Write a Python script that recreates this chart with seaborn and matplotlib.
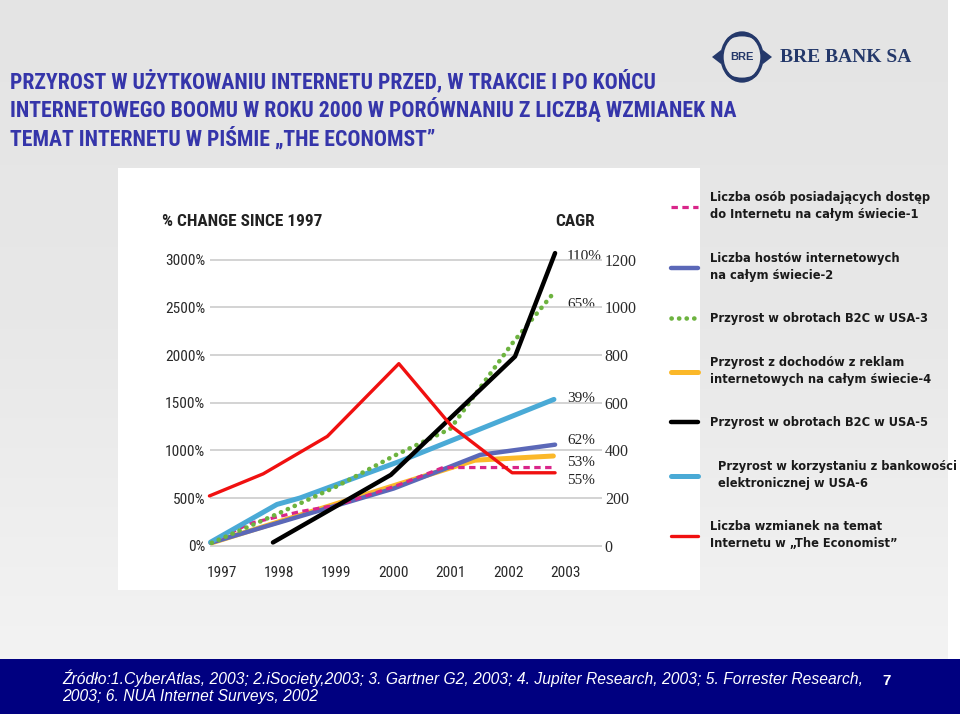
import numpy as np
import pandas as pd
import seaborn as sns
import matplotlib.pyplot as plt
from matplotlib.colors import LinearSegmentedColormap
from matplotlib.patches import Rectangle, Ellipse, Polygon, Arc

# --- dane (% zmiany od 1997) ---
years_users = [1996.8, 1997.49, 1998.36, 1999.06, 1999.64, 2000.11, 2000.86, 2002.8]
pct_users = [30, 235, 357, 433, 547, 643, 820, 820]

years_hosts = [1996.8, 2000.0, 2000.9, 2001.51, 2002.82]
pct_hosts = [30, 600, 809, 953, 1060]

years_b2c3 = [1996.82, 1998.0, 1999.0, 2000.0, 2000.99, 2002.07, 2002.75]
pct_b2c3 = [30, 342, 621, 941, 1227, 2121, 2619]

years_ads = [1996.82, 2001.42, 2002.79]
pct_ads = [30, 897, 941]

years_b2c5 = [1997.89, 1999.95, 2002.12, 2002.82]
pct_b2c5 = [34, 743, 1985, 3070]

years_bank = [1996.8, 1997.96, 1998.36, 2000.11, 2002.8]
pct_bank = [37, 433, 500, 886, 1535]

years_econ = [1996.78, 1997.72, 1998.84, 2000.09, 2001.02, 2002.07, 2002.82]
pct_econ = [522, 754, 1147, 1910, 1248, 765, 765]

x_years = [1997, 1998, 1999, 2000, 2001, 2002, 2003]
left_ticks = [0, 500, 1000, 1500, 2000, 2500, 3000]
left_labels = ['0%', '500%', '1000%', '1500%', '2000%', '2500%', '3000%']
right_ticks = [0, 200, 400, 600, 800, 1000, 1200]
cagr_labels = ['110%', '65%', '39%', '62%', '53%', '55%']

legend_labels = [
    'Liczba osób posiadających dostęp\ndo Internetu na całym świecie-1',
    'Liczba hostów internetowych\nna całym świecie-2',
    'Przyrost w obrotach B2C w USA-3',
    'Przyrost z dochodów z reklam\ninternetowych na całym świecie-4',
    'Przyrost w obrotach B2C w USA-5',
    '  Przyrost w korzystaniu z bankowości\n  elektronicznej w USA-6',
    'Liczba wzmianek na temat\nInternetu w „The Economist”',
]

title_lines = ['PRZYROST W UŻYTKOWANIU INTERNETU PRZED, W TRAKCIE I PO KOŃCU',
               'INTERNETOWEGO BOOMU W ROKU 2000 W PORÓWNANIU Z LICZBĄ WZMIANEK NA',
               'TEMAT INTERNETU W PIŚMIE „THE ECONOMST”']
source1 = ('Źródło:1.CyberAtlas, 2003; 2.iSociety,2003; 3. Gartner G2, 2003; '
           '4. Jupiter Research, 2003; 5. Forrester Research,')
source2 = '2003; 6. NUA Internet Surveys, 2002'

sns.set_style('white')
plt.rcParams['font.family'] = ['DejaVu Sans']
narrow = ['Liberation Sans Narrow', 'Roboto Condensed', 'Liberation Sans', 'DejaVu Sans']
serif = ['Liberation Serif', 'DejaVu Serif']
arial = ['Liberation Sans', 'DejaVu Sans']

fig = plt.figure(figsize=(9.6, 7.14), dpi=100)
rend = fig.canvas.get_renderer()


def dopasuj(txt, target_px):
    # skaluje rozmiar czcionki tak, by tekst miał zadaną szerokość w pikselach
    w = txt.get_window_extent(rend).width
    txt.set_fontsize(txt.get_fontsize() * target_px / w)
    return txt.get_fontsize()


# --- tło slajdu (współrzędne w pikselach) ---
bg = fig.add_axes([0, 0, 1, 1], zorder=0)
bg.set_xlim(0, 960)
bg.set_ylim(714, 0)
bg.axis('off')
grad = np.linspace(0, 1, 200).reshape(-1, 1)
cm = LinearSegmentedColormap.from_list('slajd', ['#e4e4e4', '#e8e8e8', '#f3f3f3'])
bg.imshow(grad, extent=[0, 960, 659, 0], cmap=cm, aspect='auto')
bg.add_patch(Rectangle((948, 0), 12, 659, color='white', lw=0))
bg.add_patch(Rectangle((118, 168), 582, 422, color='white', lw=0))
bg.add_patch(Rectangle((0, 659), 960, 55, color='#000080', lw=0))

# tytuł (trzy linie, szerokość dopasowana do oryginału)
tt = [bg.text(10, 0, line, fontsize=15, fontweight='bold', color='#3535aa',
              family=narrow, va='baseline', ha='left') for line in title_lines]
fs = dopasuj(tt[1], 732)
cap = 0.72 * fs * 100 / 72
for t, yc in zip(tt, [80, 109, 138]):
    t.set_fontsize(fs)
    t.set_y(yc + cap / 2)

# logo BRE
navy = '#24386a'
bg.add_patch(Ellipse((742, 57), 40, 48, fill=False, ec=navy, lw=2.4))
bg.add_patch(Arc((742, 42), 30, 14, theta1=180, theta2=360, ec=navy, lw=2))
bg.add_patch(Arc((742, 72), 30, 14, theta1=0, theta2=180, ec=navy, lw=2))
bg.add_patch(Polygon([[712, 57], [721, 50], [721, 64]], color=navy, lw=0))
bg.add_patch(Polygon([[772, 57], [763, 50], [763, 64]], color=navy, lw=0))
bg.text(742, 57.5, 'BRE', fontsize=8, fontweight='bold', color=navy,
        ha='center', va='center', family=arial)
bg.text(780, 57, 'BRE BANK SA', fontsize=14, fontweight='bold', color=navy,
        ha='left', va='center', family=serif)

# nagłówki wykresu
h1 = bg.text(162, 0, '% CHANGE SINCE 1997', fontsize=12, fontweight='bold',
             color='#222222', family=narrow, va='baseline', ha='left')
fs_h = dopasuj(h1, 160)
cap_h = 0.72 * fs_h * 100 / 72
h1.set_y(220 + cap_h / 2)
bg.text(555, 220 + cap_h / 2, 'CAGR', fontsize=fs_h, fontweight='bold',
        color='#222222', family=narrow, va='baseline', ha='left')
for lab, yy in zip(cagr_labels, [256, 304, 398, 440, 462, 481]):
    bg.text(567, yy, lab, fontsize=11, color='#222222', family=serif,
            va='center', ha='left')

# stopka
s1 = bg.text(62, 678, source1, fontsize=10.5, style='italic', color='white',
             family=arial, va='center', ha='left')
fs_s = dopasuj(s1, 803)
bg.text(62, 696, source2, fontsize=fs_s, style='italic', color='white',
        family=arial, va='center', ha='left')
bg.text(887, 681, '7', fontsize=11, fontweight='bold', color='white',
        family=arial, va='center', ha='center')

# rozmiar etykiet osi dopasowany do szerokości "3000%"
probe = bg.text(0, 0, '3000%', fontsize=11, family=narrow)
fs_tick = dopasuj(probe, 40)
probe.remove()

# --- wykres ---
ax = fig.add_axes([210 / 960, 1 - 547.6 / 714, 392 / 960, 306.9 / 714], zorder=2)
ax.patch.set_alpha(0)


def rysuj(years, pct, **kw):
    df = pd.DataFrame({'rok': years, 'proc': pct})
    sns.lineplot(data=df, x='rok', y='proc', ax=ax, legend=False,
                 errorbar=None, clip_on=False, **kw)
    return ax.lines[-1]


h_ads = rysuj(years_ads, pct_ads, color='#fbb829', lw=3.6)
h_hosts = rysuj(years_hosts, pct_hosts, color='#5b68b8', lw=3.2)
h_users = rysuj(years_users, pct_users, color='#d9258a', lw=2.3,
                linestyle=(0, (2.0, 1.4)))
h_bank = rysuj(years_bank, pct_bank, color='#4aaad6', lw=3.6)
h_b2c3 = rysuj(years_b2c3, pct_b2c3, color='#6db33f', lw=3.3,
               linestyle=(0, (0.05, 1.6)), dash_capstyle='round')
h_b2c5 = rysuj(years_b2c5, pct_b2c5, color='black', lw=3.2)
h_econ = rysuj(years_econ, pct_econ, color='#f01010', lw=2.4)

ax.set_xlim(1996.79, 2003.64)
ax.set_ylim(-20, 3200)
ax.set_yticks(left_ticks)
ax.set_yticklabels(left_labels)
ax.set_xticks(x_years)
ax.set_xticklabels([str(y) for y in x_years])
ax.set_xlabel('')
ax.set_ylabel('')
ax.grid(axis='y', color='#c8c8c8', lw=1.1)
ax.set_axisbelow(True)
ax.tick_params(axis='both', length=0, labelsize=fs_tick, labelcolor='#2a2a2a')
ax.tick_params(axis='y', pad=3.5)
ax.tick_params(axis='x', pad=13)
for t in ax.get_xticklabels() + ax.get_yticklabels():
    t.set_family(narrow)
sns.despine(ax=ax, left=True, bottom=True)

ax2 = ax.twinx()
ax2.set_ylim(-20 / 2.5, 3200 / 2.5)
ax2.set_yticks(right_ticks)
ax2.set_yticklabels([str(v) for v in right_ticks])
ax2.tick_params(axis='y', length=0, pad=2, labelsize=11.5, labelcolor='#2a2a2a')
for t in ax2.get_yticklabels():
    t.set_family(serif)
for s in ax2.spines.values():
    s.set_visible(False)

# --- legenda ---
handles = [h_users, h_hosts, h_b2c3, h_ads, h_b2c5, h_bank, h_econ]
leg = fig.legend(handles, legend_labels, loc='upper left',
                 bbox_to_anchor=(671 / 960, 1 - 191 / 714), frameon=False,
                 borderpad=0, borderaxespad=0, handlelength=2.3,
                 handletextpad=1.05, labelspacing=2.65,
                 prop={'weight': 'bold', 'size': 8.3, 'family': 'DejaVu Sans'},
                 labelcolor='#1a1a1a')
for t in leg.get_texts():
    t.set_linespacing(1.4)

fig.savefig('out.png', dpi=100)
